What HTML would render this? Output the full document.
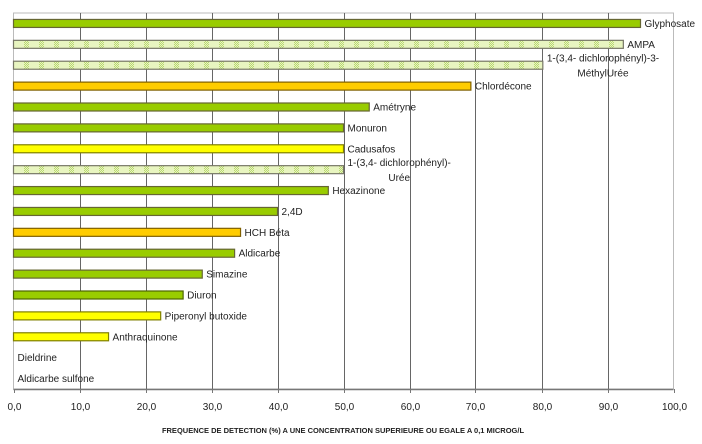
<!DOCTYPE html>
<html><head><meta charset="utf-8"><style>
html,body{margin:0;padding:0;background:#fff;}
svg{display:block;font-family:"Liberation Sans",sans-serif;}
</style></head><body>
<svg id="chart" width="702" height="444" viewBox="0 0 702 444">
<defs>
<pattern id="hatch" width="15" height="4" patternUnits="userSpaceOnUse">
<rect width="15" height="4" fill="#e8f5c0"/>
<rect x="9" y="0" width="1" height="1" fill="#b8d870"/><rect x="11" y="0" width="1" height="1" fill="#b8d870"/><rect x="13" y="0" width="1" height="1" fill="#b8d870"/>
<rect x="10" y="1" width="1" height="1" fill="#b8d870"/><rect x="12" y="1" width="1" height="1" fill="#b8d870"/>
<rect x="9" y="2" width="1" height="1" fill="#b8d870"/><rect x="11" y="2" width="1" height="1" fill="#b8d870"/><rect x="13" y="2" width="1" height="1" fill="#b8d870"/>
<rect x="10" y="3" width="1" height="1" fill="#b8d870"/><rect x="12" y="3" width="1" height="1" fill="#b8d870"/>
</pattern>
</defs>
<g id="grid"></g>
<g id="bars"></g>
<g id="labels"></g>
<g id="axis"></g>
<text x="343" y="433" text-anchor="middle" font-size="7.5" font-weight="bold" fill="#222">FREQUENCE DE DETECTION (%) A UNE CONCENTRATION SUPERIEURE OU EGALE A 0,1 MICROG/L</text>
</svg>
<script>
const categories = ["Glyphosate","AMPA","1-(3,4- dichlorophényl)-3-|MéthylUrée","Chlordécone","Amétryne","Monuron","Cadusafos","1-(3,4- dichlorophényl)-|Urée","Hexazinone","2,4D","HCH Béta","Aldicarbe","Simazine","Diuron","Piperonyl butoxide","Anthraquinone","Dieldrine","Aldicarbe sulfone"];
const values = [95.0,92.4,80.2,69.3,53.9,50.0,50.0,50.0,47.7,40.0,34.4,33.5,28.6,25.7,22.3,14.4,0,0];
const kinds = ["green","hatch","hatch","orange","green","green","yellow","hatch","green","green","orange","green","green","dgreen","yellow","yellow","green","green"];
const tickValues = [0,10,20,30,40,50,60,70,80,90,100];
const tickLabels = ["0,0","10,0","20,0","30,0","40,0","50,0","60,0","70,0","80,0","90,0","100,0"];

const NS="http://www.w3.org/2000/svg";
const X0=13.5, X1=673.5, Y0=13, Y1=389;
const xScale=v=>X0+(v/100)*(X1-X0);
const band=(Y1-Y0)/categories.length;
const yCenter=i=>Y0+band*(i+0.5);
const styles={green:["#99cc00","#666633"],hatch:["url(#hatch)","#777766"],orange:["#ffcc00","#806000"],yellow:["#ffff00","#808000"],dgreen:["#99cc00","#4d6600"]};
function mk(tag,attrs,parent){const e=document.createElementNS(NS,tag);for(const k in attrs)e.setAttribute(k,attrs[k]);parent.appendChild(e);return e;}
const grid=document.getElementById('grid'),bars=document.getElementById('bars'),labels=document.getElementById('labels'),axis=document.getElementById('axis');
const fr=mk('rect',{x:X0,y:Y0,width:X1-X0,height:Y1-Y0,fill:'none',stroke:'#bbbbbb','stroke-width':1},grid);


tickValues.forEach((t,i)=>{
  const x=Math.round(xScale(t))+0.5;
  if(t>0&&t<100){
    const g=mk('line',{x1:x,y1:Y0,x2:x,y2:Y1,stroke:'#666','stroke-width':1},grid);
    
    
  }
  const tk=mk('line',{x1:x,y1:Y1,x2:x,y2:Y1+4,stroke:'#777','stroke-width':1},axis);
  
  
  const tl=mk('text',{x:x,y:Y1+21,'text-anchor':'middle','font-size':10,fill:'#222'},axis);
  tl.textContent=tickLabels[i];
  
  
});
const ax=mk('line',{x1:X0,y1:Y1+0.5,x2:X1,y2:Y1+0.5,stroke:'#777','stroke-width':1.5},axis);


categories.forEach((c,i)=>{
  const cy=yCenter(i), v=values[i], s=styles[kinds[i]];
  const xe=xScale(v);
  if(v>0){
    const r=mk('rect',{x:X0,y:cy-4,width:xe-X0,height:8,fill:s[0],stroke:s[1],'stroke-width':1.2},bars);
    
    
  }
  const parts=c.split('|');
  if(parts.length===1){
    const t=mk('text',{'font-size':10,fill:'#222'},labels);
    
    
    t.setAttribute('x',v>0?xe+4:X0+4);
    t.setAttribute('y',cy+3.5);
    t.textContent=c;
  } else {
    const t1=mk('text',{'font-size':10,fill:'#222',x:xe+4,y:cy-3.5},labels);
    
    
    t1.textContent=parts[0];
    let w=parts[0].length*4.8;
    try{w=t1.getComputedTextLength()||w;}catch(e){}
    const t2=mk('text',{'font-size':10,fill:'#222',x:xe+4+w/2,y:cy+11.5,'text-anchor':'middle'},labels);
    
    
    t2.textContent=parts[1];
  }
});
</script>
</body></html>
